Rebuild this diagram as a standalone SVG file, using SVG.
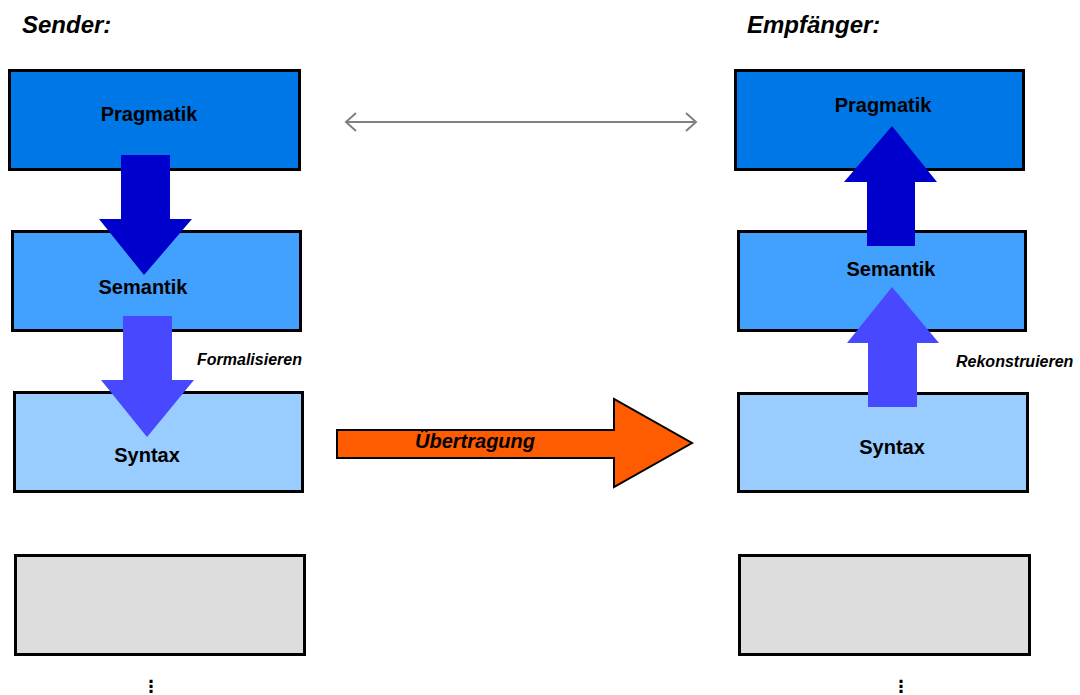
<svg xmlns="http://www.w3.org/2000/svg" width="1080" height="695" viewBox="0 0 1080 695">
<style>
.box{stroke:#000;stroke-width:3}
.prag{fill:#0077E6}
.sem{fill:#42A1FF}
.syn{fill:#99CCFF}
.gray{fill:#DDDDDD}
.lbl{font-family:"Liberation Sans",Arial,sans-serif;font-weight:bold;font-size:20px;fill:#000;text-anchor:middle}
.title{font-family:"Liberation Sans",Arial,sans-serif;font-weight:bold;font-style:italic;font-size:24px;fill:#000}
.note{font-family:"Liberation Sans",Arial,sans-serif;font-weight:bold;font-style:italic;font-size:16px;fill:#000}
.dots{font-family:"DejaVu Sans",sans-serif;font-weight:bold;font-size:17px;fill:#000;text-anchor:middle}
.dark{fill:#0000CC}
.light{fill:#4848FF}
</style>
<rect width="1080" height="695" fill="#fff"/>
<text class="title" x="22" y="33">Sender:</text>
<text class="title" x="747" y="33">Empfänger:</text>

<g id="sender-pragmatik"><rect class="box prag" x="9.5" y="70.5" width="290" height="99"/><text class="lbl" x="149" y="121">Pragmatik</text></g>
<g id="sender-semantik"><rect class="box sem" x="12.5" y="231.5" width="288" height="99"/><text class="lbl" x="143" y="294">Semantik</text></g>
<g id="sender-syntax"><rect class="box syn" x="14.5" y="392.5" width="288" height="99"/><text class="lbl" x="147" y="462">Syntax</text></g>
<g id="sender-lower"><rect class="box gray" x="15.5" y="555.5" width="289" height="99"/></g>
<g id="sender-more"><text class="dots" x="151" y="692">⋮</text></g>

<g id="empf-pragmatik"><rect class="box prag" x="735.5" y="70.5" width="288" height="99"/><text class="lbl" x="883" y="112">Pragmatik</text></g>
<g id="empf-semantik"><rect class="box sem" x="738.5" y="231.5" width="287" height="99"/><text class="lbl" x="891" y="276">Semantik</text></g>
<g id="empf-syntax"><rect class="box syn" x="738.5" y="393.5" width="289" height="98"/><text class="lbl" x="892" y="454">Syntax</text></g>
<g id="empf-lower"><rect class="box gray" x="739.5" y="555.5" width="290" height="99"/></g>
<g id="empf-more"><text class="dots" x="901" y="692">⋮</text></g>

<g id="connectors">
<path class="dark" d="M121,155 H170 V219 H192 L144,275 L99,219 H121 Z"/>
<path class="light" d="M123,316 H172 V380 H194 L147,437 L101,380 H123 Z"/>
<text class="note" x="197" y="365">Formalisieren</text>
<path class="dark" d="M867,246 H915 V182 H937 L892,126 L844,182 H867 Z"/>
<path class="light" d="M868,407 H917 V343 H939 L892,287 L847,343 H868 Z"/>
<text class="note" x="956" y="367">Rekonstruieren</text>
<path d="M337,430 H614 V399 L692,443 L614,487 V458 H337 Z" fill="#FF5B00" stroke="#000" stroke-width="2" stroke-linejoin="miter"/>
<text x="415" y="448" style="font-family:'Liberation Sans',Arial,sans-serif;font-weight:bold;font-style:italic;font-size:20px;fill:#000">Übertragung</text>
<g stroke="#808080" stroke-width="2" fill="none">
<path d="M346,122 H696"/>
<path d="M356,113 L346,122 L356,131"/>
<path d="M686,113 L696,122 L686,131"/>
</g>
</g>
</svg>
